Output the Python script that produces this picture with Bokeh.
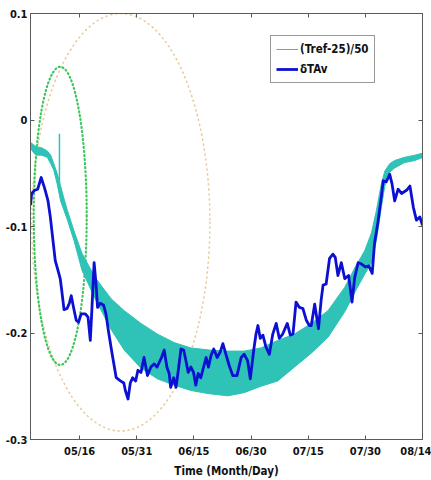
from bokeh.plotting import figure
from bokeh.models import Range1d, FixedTicker, LinearAxis, Legend, LegendItem, CustomJSTickFormatter
from bokeh.embed import file_html
from bokeh.resources import INLINE

# ---- data (x = day of year, y = value) ----
x_ticks = [136, 151, 166, 181, 196, 211, 226]
x_tick_labels = ["05/16", "05/31", "06/15", "06/30", "07/15", "07/30", "08/14"]
y_ticks = [-0.3, -0.2, -0.1, 0, 0.1]
y_tick_labels = ["-0.3", "-0.2", "-0.1", "0", "0.1"]

# (Tref-25)/50 : daily oscillation envelope
tref_day = [123.1, 124.5, 126.0, 127.5, 128.4, 129.2, 130.1, 131.0, 131.9, 132.8,
            134.5, 136.6, 140.1, 144.3, 147.7, 152.1, 156.4, 160.8, 165.2, 170.0,
            174.9, 179.2, 183.6, 188.0, 192.4, 196.8, 201.2, 205.6, 208.2, 210.8,
            212.6, 213.9, 215.2, 216.1, 217.4, 218.7, 221.3, 224.0, 226.2]
tref_upper = [-0.021, -0.025, -0.026, -0.029, -0.033, -0.041, -0.050, -0.062, -0.074, -0.085,
              -0.104, -0.125, -0.148, -0.168, -0.179, -0.191, -0.201, -0.209, -0.214, -0.216,
              -0.217, -0.217, -0.214, -0.207, -0.201, -0.191, -0.179, -0.157, -0.139, -0.123,
              -0.106, -0.085, -0.060, -0.048, -0.041, -0.038, -0.035, -0.033, -0.031]
tref_lower = [-0.027, -0.033, -0.033, -0.035, -0.041, -0.047, -0.060, -0.076, -0.085, -0.094,
              -0.113, -0.141, -0.168, -0.197, -0.216, -0.233, -0.243, -0.249, -0.254, -0.257,
              -0.259, -0.256, -0.250, -0.245, -0.232, -0.219, -0.204, -0.180, -0.162, -0.145,
              -0.134, -0.113, -0.082, -0.062, -0.049, -0.045, -0.040, -0.038, -0.035]
spike_day = [130.7]
spike_low = [-0.060]
spike_high = [-0.013]

# dTAv
dtav_day = [123.1, 123.4, 124.2, 125.0, 125.9, 126.8, 127.7, 128.3, 128.9, 129.6,
            130.3, 130.9, 131.3, 131.9, 132.7, 133.3, 133.8, 134.4, 135.1, 135.7,
            136.4, 137.5, 138.2, 138.8, 139.2, 139.8, 140.3, 140.7, 141.4, 142.3,
            142.9, 143.6, 144.5, 145.6, 146.7, 147.6, 148.0, 148.7, 149.3, 149.9,
            150.7, 151.3, 152.1, 152.9, 153.8, 154.7, 155.6, 156.3, 157.5, 158.2,
            158.9, 159.5, 159.9, 160.7, 161.3, 161.9, 162.6, 163.3, 163.9, 164.5,
            165.2, 165.9, 166.5, 167.1, 167.8, 168.6, 169.2, 169.8, 170.5, 171.2,
            172.1, 172.9, 173.6, 174.4, 175.3, 176.2, 177.3, 178.4, 179.2, 180.1,
            180.8, 181.7, 182.3, 182.8, 183.4, 184.1, 184.9, 185.8, 186.7, 187.6,
            188.4, 189.3, 190.5, 191.3, 192.0, 192.8, 193.7, 194.6, 195.5, 196.3,
            196.8, 197.7, 198.7, 199.4, 199.9, 200.7, 201.6, 202.5, 203.1, 203.8,
            204.7, 205.6, 206.6, 207.5, 208.2, 209.1, 209.9, 211.0, 211.9, 212.8,
            213.4, 214.3, 215.2, 215.7, 216.5, 217.4, 218.0, 218.7, 219.6, 220.5,
            221.8, 222.7, 223.6, 224.4, 225.3, 226.0]
dtav_val = [-0.080, -0.069, -0.066, -0.065, -0.054, -0.064, -0.076, -0.091, -0.110, -0.132,
            -0.141, -0.149, -0.160, -0.178, -0.177, -0.172, -0.165, -0.176, -0.188, -0.190,
            -0.182, -0.182, -0.185, -0.207, -0.179, -0.134, -0.154, -0.176, -0.172, -0.174,
            -0.182, -0.199, -0.219, -0.242, -0.245, -0.247, -0.254, -0.262, -0.247, -0.242,
            -0.245, -0.235, -0.237, -0.223, -0.240, -0.232, -0.229, -0.232, -0.223, -0.216,
            -0.232, -0.238, -0.251, -0.242, -0.251, -0.235, -0.215, -0.216, -0.226, -0.237,
            -0.232, -0.237, -0.249, -0.238, -0.242, -0.231, -0.223, -0.232, -0.221, -0.215,
            -0.223, -0.218, -0.210, -0.220, -0.231, -0.240, -0.240, -0.223, -0.220, -0.226,
            -0.243, -0.216, -0.201, -0.193, -0.205, -0.202, -0.213, -0.220, -0.201, -0.191,
            -0.205, -0.201, -0.191, -0.202, -0.201, -0.171, -0.176, -0.177, -0.188, -0.193,
            -0.193, -0.173, -0.196, -0.169, -0.155, -0.154, -0.130, -0.126, -0.129, -0.146,
            -0.134, -0.149, -0.146, -0.171, -0.148, -0.134, -0.135, -0.138, -0.137, -0.144,
            -0.116, -0.096, -0.072, -0.057, -0.058, -0.051, -0.060, -0.076, -0.065, -0.069,
            -0.066, -0.062, -0.082, -0.094, -0.091, -0.099]

# dotted ellipses: center day, center value, width (days), height (value)
ell_small = dict(x=[130.9], y=[-0.090], w=[13.9], h=[0.280])
ell_large = dict(x=[146.8], y=[-0.096], w=[46.8], h=[0.392])

# ---- styles ----
FONT = "'DejaVu Sans Condensed', 'Liberation Sans', Arial, sans-serif"
CYAN = "#2fc2b6"
BLUE = "#0c10d2"
AXC = "#5a5a5a"

p = figure(width=431, height=480, output_backend="svg", toolbar_location=None,
           x_range=Range1d(123.1, 226.0), y_range=Range1d(-0.3, 0.1),
           min_border_left=30, min_border_right=9, min_border_top=13, min_border_bottom=40)
p.grid.visible = False
p.outline_line_color = AXC
p.background_fill_color = "white"
p.border_fill_color = "white"

xa = p.xaxis[0]
xa.ticker = FixedTicker(ticks=x_ticks)
xa.major_label_overrides = dict(zip(x_ticks, x_tick_labels))
xa.axis_label = "Time (Month/Day)"
xa.axis_label_standoff = 3
xa.major_label_standoff = 5
ya = p.yaxis[0]
ya.ticker = FixedTicker(ticks=y_ticks)
ya.major_label_overrides = dict(zip(y_ticks, y_tick_labels))
ya.major_label_standoff = 3

for ax in (xa, ya):
    ax.axis_line_color = AXC
    ax.major_tick_line_color = AXC
    ax.major_tick_in = 4
    ax.major_tick_out = 0
    ax.minor_tick_line_color = None
    ax.major_label_text_font = FONT
    ax.major_label_text_font_style = "bold"
    ax.major_label_text_font_size = "11px"
    ax.major_label_text_color = "#111111"
    ax.axis_label_text_font = FONT
    ax.axis_label_text_font_style = "bold"
    ax.axis_label_text_font_size = "11.5px"
    ax.axis_label_text_color = "#111111"

blank = CustomJSTickFormatter(code="return '';")
top = LinearAxis(ticker=FixedTicker(ticks=x_ticks), formatter=blank,
                 major_label_text_font_size="2px",
                 major_label_standoff=0, major_tick_in=4, major_tick_out=0,
                 minor_tick_line_color=None, axis_line_color=AXC, major_tick_line_color=AXC)
right = LinearAxis(ticker=FixedTicker(ticks=y_ticks), formatter=blank,
                   major_label_text_font_size="2px",
                   major_label_standoff=0, major_tick_in=4, major_tick_out=0,
                   minor_tick_line_color=None, axis_line_color=AXC, major_tick_line_color=AXC)
p.add_layout(top, "above")
p.add_layout(right, "right")

# ellipses (behind data)
p.ellipse(x=ell_large["x"], y=ell_large["y"], width=ell_large["w"], height=ell_large["h"],
          fill_color=None, line_color="#e6cc9c", line_width=1.6, line_dash="1 4", line_cap="round")
p.ellipse(x=ell_small["x"], y=ell_small["y"], width=ell_small["w"], height=ell_small["h"],
          fill_color=None, line_color="#3dc65c", line_width=2.2, line_dash="1 3", line_cap="round")

# cyan band
p.varea(x=tref_day, y1=tref_lower, y2=tref_upper, fill_color=CYAN)
tref_line = p.line(tref_day, tref_upper, line_color=CYAN, line_width=1)
p.line(tref_day, tref_lower, line_color=CYAN, line_width=1)
p.segment(x0=spike_day, y0=spike_low, x1=spike_day, y1=spike_high, line_color=CYAN, line_width=1.5)

# blue line
dtav_line = p.line(dtav_day, dtav_val, line_color=BLUE, line_width=2.8, line_join="round")

legend = Legend(items=[LegendItem(label="(Tref-25)/50", renderers=[tref_line]),
                       LegendItem(label="δTAv", renderers=[dtav_line])],
                location=(240, 356))
legend.label_text_font = FONT
legend.label_text_font_style = "bold"
legend.label_text_font_size = "11.5px"
legend.label_text_color = "#111111"
legend.border_line_color = "#333333"
legend.border_line_width = 1
legend.glyph_width = 22
legend.glyph_height = 16
legend.label_standoff = 2
legend.label_height = 16
legend.padding = 5
legend.spacing = 4
legend.margin = 0
legend.background_fill_alpha = 1
p.add_layout(legend, "center")

html = file_html(p, INLINE)
open("out.html", "w").write(html)
